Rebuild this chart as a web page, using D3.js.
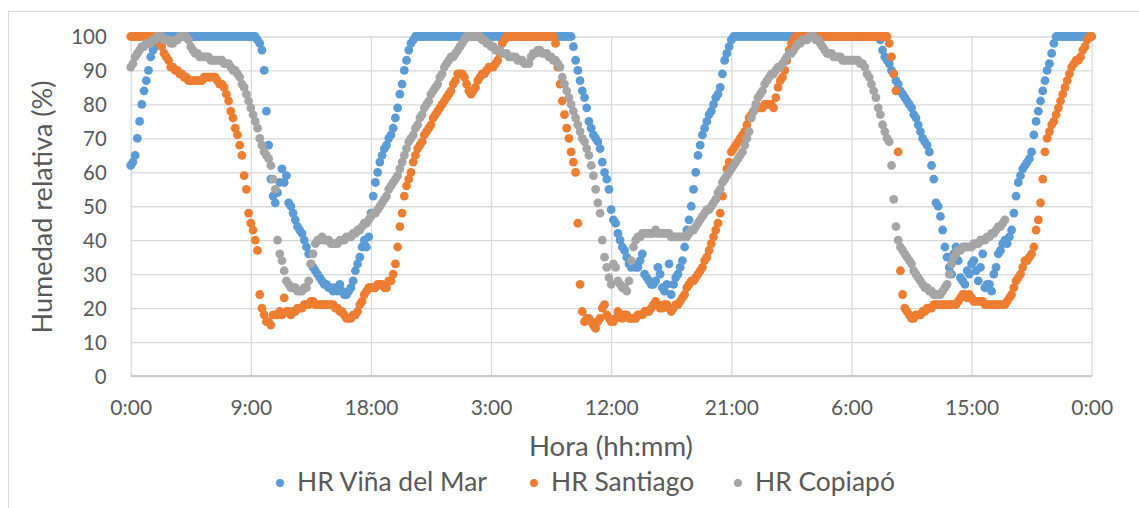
<!DOCTYPE html>
<html><head><meta charset="utf-8">
<script src="https://cdn.jsdelivr.net/npm/d3@7"></script>
<style>
body{margin:0;background:#fff;}
svg{display:block;font-family:Lato,"Open Sans",sans-serif;}
</style></head><body>
<svg id="chart" width="1139" height="508"></svg>
<script>
// ---------- data (one reading every 10 minutes, hour 0 .. 72) ----------
const stepHours = 1 / 6;
const xTickHours = [0, 9, 18, 27, 36, 45, 54, 63, 72];
const xTickLabels = ["0:00", "9:00", "18:00", "3:00", "12:00", "21:00", "6:00", "15:00", "0:00"];
const yTickValues = [0, 10, 20, 30, 40, 50, 60, 70, 80, 90, 100];
const seriesNames = ["HR Viña del Mar", "HR Santiago", "HR Copiapó"];

const hrVina = [
  62,63,65,70,75,80, 84,87,90,94,96,97, 99,100,100,100,100,100,
  100,100,100,100,100,100, 100,100,100,100,100,100, 100,100,100,100,100,100,
  100,100,100,100,100,100, 100,100,100,100,100,100, 100,100,100,100,100,100,
  100,100,100,99,98,96, 90,78,68,58,53,51, 54,57,61,57,59,51,
  50,48,46,44,43,42, 40,38,36,33,32,31, 30,29,28,27,27,26,
  26,25,26,25,27,25, 24,24,25,26,28,31, 33,35,38,40,38,41,
  48,53,57,60,63,65, 67,68,70,71,73,76, 79,83,86,90,93,96,
  98,99,100,100,100,100, 100,100,100,100,100,100, 100,100,100,100,100,100,
  100,100,100,100,100,100, 100,100,100,100,100,100, 100,100,100,100,100,100,
  100,100,100,100,100,100, 100,100,100,100,100,100, 100,100,100,100,100,100,
  100,100,100,100,100,100, 100,100,100,100,100,100, 100,100,100,100,100,100,
  100,97,93,90,87,84, 82,79,75,73,71,70, 69,67,63,60,58,55,
  49,46,45,42,40,38, 37,35,33,32,33,32, 32,34,36,30,29,28,
  27,27,28,32,30,26, 25,27,33,24,27,29, 30,32,34,38,43,46,
  50,55,60,65,68,71, 73,75,77,78,80,82, 83,85,89,93,95,97,
  99,100,100,100,100,100, 100,100,100,100,100,100, 100,100,100,100,100,100,
  100,100,100,100,100,100, 100,100,100,100,100,100, 100,100,100,100,100,100,
  100,100,100,100,100,100, 100,100,100,100,100,100, 100,100,100,100,100,100,
  100,100,100,100,100,100, 100,100,100,100,100,100, 100,99,96,94,93,92,
  90,89,87,86,84,83, 82,81,80,79,77,76, 74,72,70,69,68,66,
  62,58,51,50,47,43, 38,35,32,30,36,38, 34,29,28,27,31,30,
  33,34,31,28,32,36, 26,27,27,25,30,32, 36,37,39,40,39,41,
  43,48,53,57,59,61, 62,63,64,66,71,75, 78,81,84,87,90,92,
  95,98,100,100,100,100, 100,100,100,100,100,100, 100,100,100,100,100,100,
  100
];

const hrSantiago = [
  100,100,100,100,100,100, 100,100,100,100,100,100, 99,98,97,95,94,93,
  91,91,90,90,89,89, 88,88,87,87,87,87, 87,87,87,88,88,88,
  88,88,88,87,86,86, 85,83,81,78,76,73, 71,68,65,59,55,48,
  45,43,40,37,24,20, 18,16,16,15,18,18, 18,19,18,23,19,19,
  18,19,19,20,20,20, 21,21,21,22,22,21, 21,21,21,21,21,21,
  21,21,20,20,19,19, 18,17,17,17,18,18, 19,21,22,24,25,26,
  26,26,26,27,27,27, 26,26,28,28,30,33, 38,44,48,53,56,58,
  60,63,65,67,68,69, 71,72,73,74,76,77, 78,79,80,81,82,83,
  84,86,87,89,89,89, 88,86,84,83,84,85, 87,88,89,89,90,91,
  91,91,92,93,95,98, 99,100,100,100,100,100, 100,100,100,100,100,100,
  100,100,100,100,100,100, 100,100,100,100,100,98, 91,86,81,77,73,70,
  66,63,60,45,27,19, 16,17,17,16,15,14, 16,17,20,21,18,17,
  16,16,17,19,18,17, 18,18,17,17,17,17, 18,18,18,19,19,19,
  20,21,22,21,20,20, 21,21,20,19,20,21, 21,22,23,24,26,27,
  28,28,29,30,31,32, 34,35,37,39,41,43, 45,48,53,58,61,63,
  66,67,68,69,70,71, 72,74,76,77,78,79, 79,79,79,80,80,80,
  80,79,82,85,87,88, 90,93,96,98,99,100, 100,100,100,100,100,100,
  100,100,100,100,100,100, 100,100,100,100,100,100, 100,100,100,100,100,100,
  100,100,100,100,100,100, 100,100,100,100,100,100, 100,100,100,100,100,98,
  94,89,84,66,31,24, 20,19,18,17,17,18, 18,18,19,19,20,20,
  20,21,21,21,21,21, 21,21,21,21,21,21, 22,23,24,24,23,24,
  23,22,22,22,22,22, 21,21,21,21,21,21, 21,21,21,21,22,23,
  24,26,28,29,30,32, 34,34,35,36,38,43, 46,51,58,66,70,72,
  74,75,77,79,81,83, 85,87,89,91,92,93, 93,94,96,97,99,100,
  100
];

const hrCopiapo = [
  91,92,94,95,96,97, 97,98,98,98,99,99, 100,100,100,99,99,99,
  98,98,99,99,100,100, 100,100,99,97,96,95, 95,94,94,94,94,94,
  93,93,93,93,93,93, 92,92,92,91,90,90, 89,88,86,85,83,81,
  79,77,75,73,70,68, 66,65,64,62,58,55, 40,36,34,31,28,27,
  26,26,26,25,25,25, 26,26,28,33,36,39, 40,40,41,40,40,40,
  39,39,39,39,40,40, 40,41,41,41,42,42, 43,43,44,45,45,46,
  47,48,48,49,50,51, 52,53,55,56,57,58, 59,61,63,65,67,69,
  70,71,73,74,76,77, 79,80,81,83,84,85, 86,88,89,91,92,93,
  94,94,95,96,97,98, 99,100,100,100,100,100, 100,100,99,99,98,98,
  97,97,96,96,96,95, 95,95,94,94,94,94, 93,93,93,92,92,92,
  94,95,95,96,96,95, 95,95,94,94,93,93, 92,91,88,86,84,82,
  80,78,76,74,72,70, 69,67,65,62,59,55, 51,48,40,35,32,29,
  27,33,32,28,27,26, 26,25,28,34,38,40, 41,41,42,42,42,42,
  42,42,43,42,42,42, 42,42,42,41,41,41, 41,41,41,41,41,42,
  43,43,44,45,46,47, 48,49,49,50,51,52, 54,55,57,58,59,60,
  61,62,63,64,65,66, 68,70,72,76,78,80, 82,83,84,86,87,88,
  89,89,90,91,91,92, 93,94,95,95,96,97, 98,98,99,99,99,100,
  100,100,99,99,98,97, 96,95,95,95,94,94, 94,94,93,93,93,93,
  93,93,93,93,92,92, 91,89,88,86,84,82, 79,77,74,72,70,69,
  62,52,44,40,38,37, 36,35,34,33,31,30, 29,28,27,26,26,25,
  25,24,24,24,24,25, 26,27,30,33,35,36, 37,37,38,38,38,38,
  38,39,39,39,40,40, 40,41,41,42,42,43, 44,44,45,46
];

// ---------- styles ----------
const seriesColors = ["#5B9BD5", "#ED7D31", "#A5A5A5"];
const textColor = "#595959";
const gridColor = "#d9d9d9";

const svg = d3.select("#chart");
svg.append("rect").attr("x", 8.5).attr("y", 11.5).attr("width", 1140).attr("height", 510)
  .attr("fill", "#fff").attr("stroke", gridColor);

const x = d3.scaleLinear().domain([0, 72]).range([130.7, 1091.7]);
const y = d3.scaleLinear().domain([0, 100]).range([376, 36.5]);

// gridlines
const grid = svg.append("g");
grid.append("g").call(d3.axisLeft(y).tickValues(yTickValues).tickSize(-(x(72) - x(0))).tickFormat(""))
  .attr("transform", `translate(${x(0)},0)`)
  .call(g => g.select(".domain").remove())
  .call(g => g.selectAll("line").attr("stroke", gridColor).attr("stroke-width", 1.3));
grid.append("g").call(d3.axisBottom(x).tickValues(xTickHours).tickSize(-(y(0) - y(100))).tickFormat(""))
  .attr("transform", `translate(0,${y(0)})`)
  .call(g => g.select(".domain").remove())
  .call(g => g.selectAll("line").attr("stroke", gridColor).attr("stroke-width", 1.3));
svg.append("line").attr("x1", x(0)).attr("x2", x(72)).attr("y1", y(0)).attr("y2", y(0))
  .attr("stroke", "#bfbfbf").attr("stroke-width", 1.3);

// axes labels
const yAxis = svg.append("g").attr("transform", `translate(${x(0)},0)`)
  .call(d3.axisLeft(y).tickValues(yTickValues).tickSize(0).tickPadding(24))
  .call(g => g.select(".domain").remove());
yAxis.selectAll("text").attr("fill", textColor).attr("font-family", "Lato").attr("font-size", 20).attr("dy", "0.36em");

const xAxis = svg.append("g").attr("transform", `translate(0,${y(0)})`)
  .call(d3.axisBottom(x).tickValues(xTickHours).tickFormat((d, i) => xTickLabels[i]).tickSize(0))
  .call(g => g.select(".domain").remove());
xAxis.selectAll("text").attr("fill", textColor).attr("font-family", "Lato").attr("font-size", 20)
  .attr("y", 39).attr("dy", 0);

function fitSize(sel, sample, target) {
  const w = sample.getComputedTextLength();
  const fs = parseFloat(d3.select(sample).attr("font-size"));
  sel.attr("font-size", fs * target / w);
}
fitSize(xAxis.selectAll("text"), xAxis.selectAll("text").nodes()[4], 54);
fitSize(yAxis.selectAll("text"), yAxis.selectAll("text").nodes()[10], 35.5);

// axis titles
const yTitle = svg.append("text").text("Humedad relativa (%)")
  .attr("transform", "translate(52,207) rotate(-90)").attr("text-anchor", "middle")
  .attr("fill", textColor).attr("font-size", 24);
fitSize(yTitle, yTitle.node(), 253);
const xTitle = svg.append("text").text("Hora (hh:mm)")
  .attr("x", 611).attr("y", 456).attr("text-anchor", "middle")
  .attr("fill", textColor).attr("font-size", 24);
fitSize(xTitle, xTitle.node(), 164);

// series
const allSeries = [hrVina, hrSantiago, hrCopiapo];
allSeries.forEach((vals, si) => {
  svg.append("g").selectAll("circle").data(vals).join("circle")
    .attr("cx", (d, i) => x(i * stepHours))
    .attr("cy", d => y(d))
    .attr("r", 4.4)
    .attr("fill", seriesColors[si]);
});

// legend
const legendX = [280, 534, 738];
const legend = svg.append("g");
seriesNames.forEach((name, i) => {
  legend.append("circle").attr("cx", legendX[i]).attr("cy", 483).attr("r", 4).attr("fill", seriesColors[i]);
  const t = legend.append("text").text(name).attr("x", legendX[i] + 17).attr("y", 491)
    .attr("fill", textColor).attr("font-size", 24);
  if (i === 0) fitSize(t, t.node(), 190);
  else t.attr("font-size", legend.select("text").attr("font-size"));
});
</script>
</body></html>
